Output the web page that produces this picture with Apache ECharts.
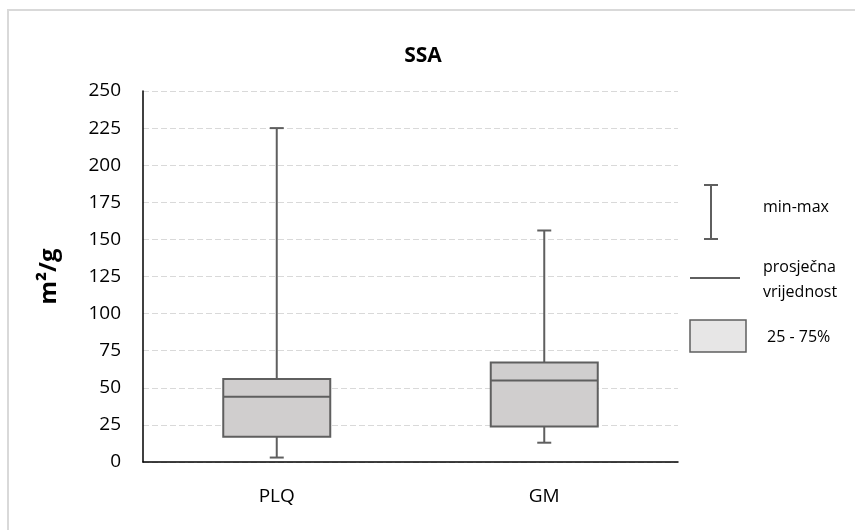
<!DOCTYPE html>
<html>
<head>
<meta charset="utf-8">
<script src="https://cdn.jsdelivr.net/npm/echarts@6/dist/echarts.min.js"></script>
<style>
html,body{margin:0;padding:0;background:#fff;}
#c{width:855px;height:530px;}
</style>
</head>
<body>
<div id="c"></div>
<script>
const categories = ['PLQ', 'GM'];
const minValues = [3, 13];
const q1Values = [17, 24];
const medianValues = [44, 55];
const q3Values = [56, 67];
const maxValues = [225, 156];
const yTicks = [0, 25, 50, 75, 100, 125, 150, 175, 200, 225, 250];

const FONT = '"Open Sans", "Liberation Sans", sans-serif';
const data = categories.map((c, i) => [i, minValues[i], q1Values[i], medianValues[i], q3Values[i], maxValues[i]]);

const chart = echarts.init(document.getElementById('c'));

function renderItem(params, api) {
  const idx = api.value(0);
  const pMin = api.coord([idx, api.value(1)]);
  const pQ1 = api.coord([idx, api.value(2)]);
  const pMed = api.coord([idx, api.value(3)]);
  const pQ3 = api.coord([idx, api.value(4)]);
  const pMax = api.coord([idx, api.value(5)]);
  const band = api.size([1, 0])[0];
  const bw = band * 0.4;
  const cap = 7;
  const x = pMin[0];
  const stroke = '#5f5f5f';
  const lw = 2;
  return {
    type: 'group',
    children: [
      { type: 'line', shape: { x1: x, y1: pMax[1], x2: x, y2: pQ3[1] }, style: { stroke, lineWidth: lw } },
      { type: 'line', shape: { x1: x, y1: pQ1[1], x2: x, y2: pMin[1] }, style: { stroke, lineWidth: lw } },
      { type: 'line', shape: { x1: x - cap, y1: pMax[1], x2: x + cap, y2: pMax[1] }, style: { stroke, lineWidth: lw } },
      { type: 'line', shape: { x1: x - cap, y1: pMin[1], x2: x + cap, y2: pMin[1] }, style: { stroke, lineWidth: lw } },
      { type: 'rect', shape: { x: x - bw / 2, y: pQ3[1], width: bw, height: pQ1[1] - pQ3[1] }, style: { fill: '#d0cece', stroke, lineWidth: lw } },
      { type: 'line', shape: { x1: x - bw / 2, y1: pMed[1], x2: x + bw / 2, y2: pMed[1] }, style: { stroke, lineWidth: lw } }
    ]
  };
}

chart.setOption({
  animation: false,
  backgroundColor: '#fff',
  grid: { left: 143, right: 177, top: 91, bottom: 68 },
  xAxis: {
    type: 'category',
    data: categories,
    boundaryGap: true,
    axisLine: { lineStyle: { color: '#000', width: 1.5 } },
    axisTick: { show: false },
    axisLabel: { fontFamily: FONT, fontSize: 19, color: '#000', margin: 25 }
  },
  yAxis: {
    type: 'value',
    min: yTicks[0], max: yTicks[yTicks.length - 1], interval: 25,
    name: 'm²/g',
    nameLocation: 'middle',
    nameGap: 82,
    nameRotate: 90,
    nameTextStyle: { fontFamily: FONT, fontSize: 24, fontWeight: 'bold', color: '#000' },
    axisLine: { show: true, lineStyle: { color: '#000', width: 1.5 } },
    axisTick: { show: false },
    axisLabel: { fontFamily: FONT, fontSize: 19, color: '#000', margin: 22 },
    splitLine: { lineStyle: { color: '#d9d9d9', type: [6, 3], width: 1 } }
  },
  series: [{
    type: 'custom',
    renderItem,
    data,
    encode: { x: 0, y: [1, 2, 3, 4, 5] },
    z: 3
  }],
  graphic: [
    { type: 'rect', shape: { x: 8, y: 10, width: 900, height: 600 }, style: { fill: 'none', stroke: '#d9d9d9', lineWidth: 2 }, z: -1 },
    { type: 'text', x: 423, y: 56, style: { text: 'SSA', font: 'bold 21px ' + FONT, fill: '#000', textAlign: 'center', textVerticalAlign: 'middle' } },
    { type: 'line', shape: { x1: 711, y1: 185, x2: 711, y2: 239 }, style: { stroke: '#5f5f5f', lineWidth: 2 } },
    { type: 'line', shape: { x1: 704, y1: 185, x2: 718, y2: 185 }, style: { stroke: '#5f5f5f', lineWidth: 2 } },
    { type: 'line', shape: { x1: 704, y1: 239, x2: 718, y2: 239 }, style: { stroke: '#5f5f5f', lineWidth: 2 } },
    { type: 'text', x: 763, y: 207, style: { text: 'min-max', font: '16px ' + FONT, fill: '#000', textVerticalAlign: 'middle' } },
    { type: 'line', shape: { x1: 690, y1: 278, x2: 740, y2: 278 }, style: { stroke: '#5f5f5f', lineWidth: 2 } },
    { type: 'text', x: 763, y: 267, style: { text: 'prosječna', font: '16px ' + FONT, fill: '#000', textVerticalAlign: 'middle' } },
    { type: 'text', x: 763, y: 292, style: { text: 'vrijednost', font: '16px ' + FONT, fill: '#000', textVerticalAlign: 'middle' } },
    { type: 'rect', shape: { x: 690, y: 320, width: 56, height: 32 }, style: { fill: '#e7e6e6', stroke: '#5f5f5f', lineWidth: 1.5 } },
    { type: 'text', x: 767, y: 337, style: { text: '25 - 75%', font: '16px ' + FONT, fill: '#000', textVerticalAlign: 'middle' } }
  ]
});
</script>
</body>
</html>
